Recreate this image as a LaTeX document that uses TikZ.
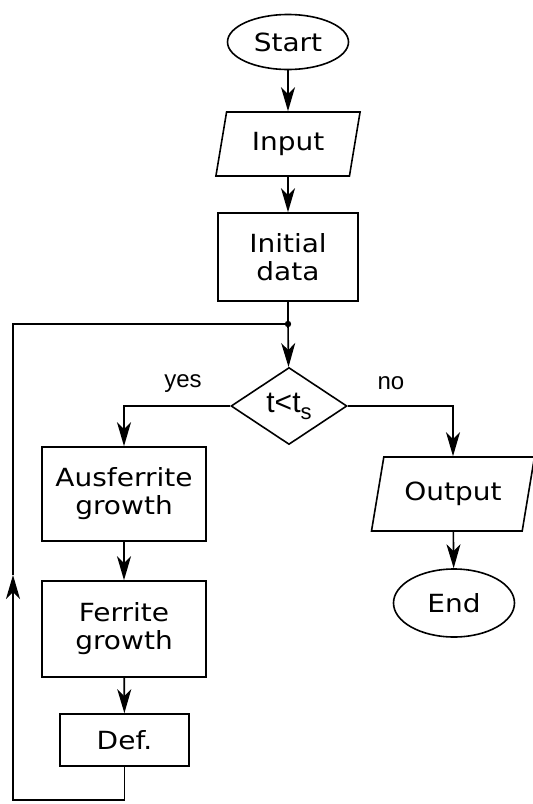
\documentclass[tikz,border=0pt]{standalone}
\usepackage{fontspec}
\setmainfont{DejaVu Sans}[FakeStretch=1.12]
\newfontfamily\lblfont{Liberation Sans}
\usetikzlibrary{shapes.geometric,arrows.meta}
\begin{document}
\begin{tikzpicture}[x=1pt, y=1pt, line width=1.6pt,
  >={Stealth[length=24pt, width=14pt, inset=7pt]},
  txt/.style={font=\fontsize{25}{28}\selectfont, align=center, inner sep=0pt},
  term/.style={txt, draw, ellipse, minimum width=121pt},
  io/.style={txt, draw, trapezium, trapezium stretches=true},
  proc/.style={txt, draw, rectangle},
  test/.style={draw, diamond, aspect=1.5, inner sep=0pt, minimum width=116pt, minimum height=77pt,
    font=\lblfont\fontsize{30}{30}\selectfont},
  lbl/.style={font=\lblfont\fontsize{24}{28}\selectfont}]
\useasboundingbox (0,0) rectangle (533,-804);
\node[term, minimum height=55pt] (start) at (288,-42) {Start};
\node[io, trapezium left angle=75, trapezium right angle=105, minimum width=145pt, minimum height=64pt] (input) at (288,-144) {Input};
\node[proc, minimum width=140pt, minimum height=88pt] (init) at (288,-257) {Initial\\data};
\coordinate (dot) at (288,-324);
\node[test] (cond) at (289,-406) {t<t\raisebox{-7pt}{\fontsize{22}{22}\selectfont s}};
\node[proc, minimum width=164pt, minimum height=94pt] (aus) at (124,-494) {Ausferrite\\growth};
\node[proc, minimum width=164pt, minimum height=96pt] (fer) at (124,-629) {Ferrite\\growth};
\node[proc, minimum width=129pt, minimum height=52pt] (def) at (124.5,-740) {Def.};
\node[io, trapezium left angle=70, trapezium right angle=110, minimum width=163pt, minimum height=74pt] (output) at (453,-494) {Output};
\node[term, minimum height=68pt] (end) at (454,-603) {End};
\coordinate (bl) at (13,-800);
\coordinate (up) at (13,-575);
\draw[->] (start) -- (input);
\draw[->] (input) -- (init);
\draw (init) -- (dot);
\fill (dot) circle (3.2pt);
\draw[->] (dot) -- (cond);
\draw[->] (cond.west) -| (aus.north);
\draw[->] (cond.east) -| (output.north);
\draw[->] (aus) -- (fer);
\draw[->] (fer) -- (def);
\draw[->] (output) -- (end);
\draw[->] (def.south) |- (bl) -- (up);
\draw (up) |- (dot);
\node[lbl] (yes) at (183,-384) {yes};
\node[lbl] (no) at (391,-383) {no};
\end{tikzpicture}
\end{document}
